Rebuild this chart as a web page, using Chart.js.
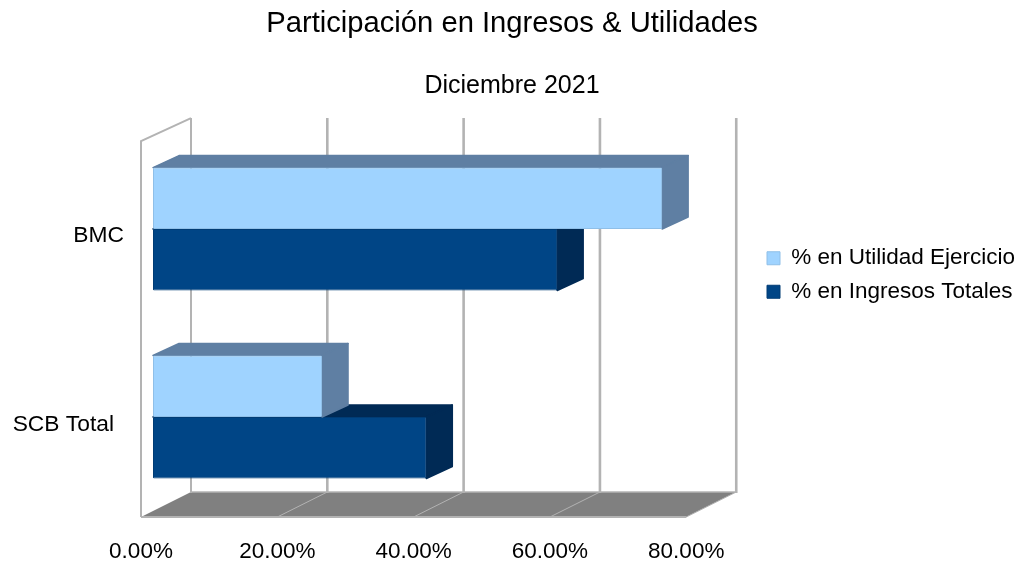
<!DOCTYPE html>
<html>
<head>
<meta charset="utf-8">
<style>
html,body{margin:0;padding:0;background:#fff;overflow:hidden;}
#wrap{width:1026px;height:563px;position:relative;overflow:hidden;}
canvas{display:block;}
</style>
<script src="https://cdn.jsdelivr.net/npm/chart.js@4"></script>
</head>
<body>
<div id="wrap"><canvas id="c"></canvas></div>
<script>
const categories = ['BMC', 'SCB Total'];
const seriesNames = ['% en Utilidad Ejercicio', '% en Ingresos Totales'];
const utilidadValues = [74.7, 24.8];
const ingresosValues = [59.3, 40.1];
const xTickStep = 20;
const xMax = 80;
const chartTitle = 'Participación en Ingresos & Utilidades';
const chartSubtitle = 'Diciembre 2021';

const FONT = '"Liberation Sans", Arial, sans-serif';
const LIGHT = '#9fd3ff', LIGHT_EDGE = '#8fbfe8', LIGHT_SIDE = '#5f7fa3';
const DARK = '#004586', DARK_EDGE = '#003c75', DARK_SIDE = '#002a55';
const WALL = '#b3b3b3', FLOOR = '#808080';

const wallDepth = {x: 50, y: -25};
const barOffset = {x: 12, y: -6};
const barDepth = {x: 26, y: -12};

function poly(ctx, pts, fill, stroke, w) {
  ctx.beginPath();
  pts.forEach((p, i) => i ? ctx.lineTo(p[0], p[1]) : ctx.moveTo(p[0], p[1]));
  ctx.closePath();
  if (fill) { ctx.fillStyle = fill; ctx.fill(); }
  if (stroke) { ctx.strokeStyle = stroke; ctx.lineWidth = w || 1; ctx.lineJoin = 'round'; ctx.stroke(); }
}

const scene3d = {
  id: 'scene3d',
  afterLayout(chart) {
    const lg = chart.legend;
    lg.left = 756; lg.right = 1026; lg.top = 236; lg.bottom = 330;
    chart.boxes.forEach(b => {
      if (b.options && b.options.text) { b.left = 0; b.right = 1024; }
    });
  },
  beforeDraw(chart) {
    // per-label nudges of the category labels, as in the reference
    const items = chart.scales.y.getLabelItems(chart.chartArea);
    if (items[1] && !items[1].__moved) {
      items[0].options.translation[1] += 1;
      items[1].options.translation[0] -= 10;
      items[1].options.translation[1] += 2;
      items[1].__moved = true;
    }
  },
  beforeDatasetsDraw(chart) {
    const ctx = chart.ctx, xs = chart.scales.x, a = chart.chartArea;
    const L = xs.getPixelForValue(0), R = xs.getPixelForValue(xMax);
    const T = a.top, B = a.bottom;
    const d = wallDepth;
    ctx.save();
    // floor
    poly(ctx, [[L, B], [L + d.x, B + d.y], [R + d.x, B + d.y], [R, B]], FLOOR);
    // back-wall grid lines and diagonals on the floor
    xs.ticks.forEach(t => {
      const px = xs.getPixelForValue(t.value);
      ctx.strokeStyle = WALL;
      ctx.lineWidth = t.value === 0 ? 2 : 2.6;
      ctx.beginPath();
      ctx.moveTo(px + d.x, T + d.y + 2);
      ctx.lineTo(px + d.x, B + d.y + 1);
      ctx.stroke();
      if (t.value > 0) {
        ctx.lineWidth = 1;
        ctx.beginPath();
        ctx.moveTo(px, B);
        ctx.lineTo(px + d.x, B + d.y);
        ctx.stroke();
      }
    });
    // floor edges and left wall
    ctx.strokeStyle = WALL;
    ctx.lineWidth = 1.5;
    ctx.beginPath();
    ctx.moveTo(L + d.x, B + d.y);
    ctx.lineTo(R + d.x, B + d.y);
    ctx.stroke();
    ctx.lineWidth = 2;
    ctx.beginPath();
    ctx.moveTo(L, B);
    ctx.lineTo(R, B);
    ctx.stroke();
    ctx.beginPath();
    ctx.moveTo(L, B);
    ctx.lineTo(L, T);
    ctx.lineTo(L + d.x, T + d.y + 2);
    ctx.stroke();
    ctx.restore();
  },
  beforeDatasetDraw(chart, args) {
    const ctx = chart.ctx, meta = args.meta;
    const sideCol = args.index === 0 ? LIGHT_SIDE : DARK_SIDE;
    ctx.save();
    ctx.translate(barOffset.x, barOffset.y);
    meta.data.forEach(el => {
      const p = el.getProps(['x', 'y', 'base', 'height'], true);
      const top = p.y - p.height / 2, bot = p.y + p.height / 2;
      const dx = barDepth.x, dy = barDepth.y;
      poly(ctx, [[p.base, top], [p.base + dx, top + dy], [p.x + dx, top + dy], [p.x, top]], sideCol, sideCol, 1.5);
      poly(ctx, [[p.x, top], [p.x + dx, top + dy], [p.x + dx, bot + dy], [p.x, bot]], sideCol, sideCol, 1.5);
    });
  },
  afterDatasetDraw(chart) {
    chart.ctx.restore();
  }
};

new Chart(document.getElementById('c'), {
  type: 'bar',
  plugins: [scene3d],
  data: {
    labels: categories,
    datasets: [
      {label: seriesNames[0], data: utilidadValues, backgroundColor: LIGHT, borderColor: LIGHT_EDGE, borderWidth: 1, borderRadius: 1, borderSkipped: false, clip: false},
      {label: seriesNames[1], data: ingresosValues, backgroundColor: DARK, borderColor: DARK_EDGE, borderWidth: 1, borderRadius: 1, borderSkipped: false, clip: false}
    ]
  },
  options: {
    indexAxis: 'y',
    responsive: true,
    maintainAspectRatio: false,
    animation: false,
    layout: {padding: {left: 0, right: 111, top: 0, bottom: 0}},
    categoryPercentage: 0.654,
    barPercentage: 1,
    scales: {
      x: {
        min: 0, max: xMax,
        grid: {display: false},
        border: {display: false},
        ticks: {
          stepSize: xTickStep,
          maxRotation: 0,
          padding: 13,
          color: '#000',
          font: {family: FONT, size: 22.5},
          callback: v => v.toFixed(2) + '%'
        },
        afterFit(s) { s.height = 46; }
      },
      y: {
        grid: {display: false},
        border: {display: false},
        ticks: {
          padding: 9,
          color: '#000',
          font: {family: FONT, size: 22.8}
        },
        afterFit(s) { s.width = 141; }
      }
    },
    plugins: {
      title: {
        display: true, text: chartTitle, color: '#000',
        font: {family: FONT, size: 29.2, weight: 'normal'},
        padding: {top: 6, bottom: 30}
      },
      subtitle: {
        display: true, text: chartSubtitle, color: '#000',
        font: {family: FONT, size: 25, weight: 'normal'},
        padding: {top: 0, bottom: 40}
      },
      legend: {
        display: true, position: 'right', align: 'start',
        labels: {
          color: '#000',
          boxWidth: 13, boxHeight: 13, padding: 11,
          font: {family: FONT, size: 22.5}
        }
      },
      tooltip: {enabled: false}
    }
  }
});
</script>
</body>
</html>
